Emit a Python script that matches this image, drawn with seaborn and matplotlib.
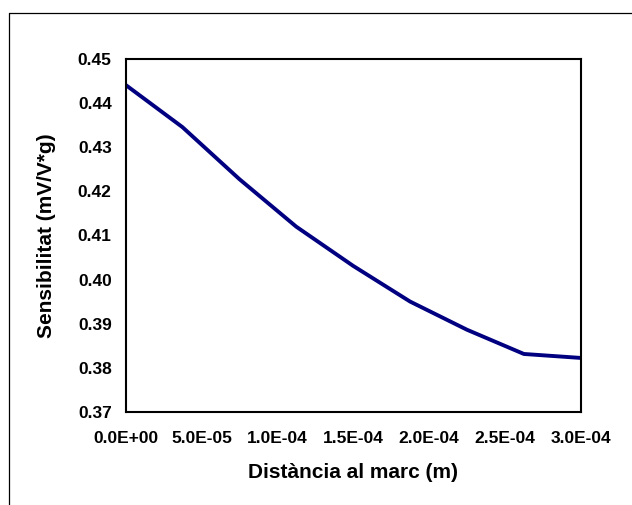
import pandas as pd
import matplotlib
matplotlib.use("Agg")
import matplotlib.pyplot as plt
from matplotlib.lines import Line2D
from matplotlib.ticker import FuncFormatter, MultipleLocator
import seaborn as sns

# --- values ---
distance_m = [0.0, 3.75e-5, 7.5e-5, 1.125e-4, 1.5e-4, 1.875e-4, 2.25e-4, 2.625e-4, 3.0e-4]
sensitivity = [0.4442, 0.4346, 0.4228, 0.4120, 0.4031, 0.3950, 0.3886, 0.3831, 0.3822]
df = pd.DataFrame({'distance': distance_m, 'sens': sensitivity})

sns.set_theme(style="white")
plt.rcParams['font.family'] = ['Liberation Sans', 'DejaVu Sans']
plt.rcParams['font.weight'] = 'bold'
plt.rcParams['text.color'] = 'black'
plt.rcParams['axes.labelcolor'] = 'black'

fig = plt.figure(figsize=(6.32, 5.05), dpi=100)
ax = fig.add_axes([0.1986, 0.1848, 0.7204, 0.6978])

sns.lineplot(data=df, x='distance', y='sens', ax=ax, color='#000080', linewidth=2.8)

ax.set_xlim(0, 3.0e-4)
ax.set_ylim(0.37, 0.45)
ax.xaxis.set_major_locator(MultipleLocator(5e-5))
ax.yaxis.set_major_locator(MultipleLocator(0.01))
ax.xaxis.set_major_formatter(FuncFormatter(lambda v, p: f'{v:.1E}'))
ax.yaxis.set_major_formatter(FuncFormatter(lambda v, p: f'{v:.2f}'))

ax.tick_params(axis='both', direction='out', length=4, width=1.2, color='black',
               labelsize=12.5, labelcolor='black')
ax.tick_params(axis='x', pad=10)
ax.tick_params(axis='y', pad=6)
for lbl in ax.get_xticklabels() + ax.get_yticklabels():
    lbl.set_fontweight('bold')

for side in ['left', 'right', 'top', 'bottom']:
    ax.spines[side].set_visible(True)
    ax.spines[side].set_color('black')
    ax.spines[side].set_linewidth(1.5)

ax.set_xlabel('Distància al marc (m)', fontsize=15, fontweight='bold', labelpad=12)
ax.set_ylabel('Sensibilitat (mV/V*g)', fontsize=15, fontweight='bold', labelpad=16)

# outer chart frame (top and left edges visible)
W, H = 632, 505
fig.add_artist(Line2D([8.5 / W, 1.0], [1 - 13 / H, 1 - 13 / H], transform=fig.transFigure,
                      color='black', linewidth=0.9))
fig.add_artist(Line2D([8.5 / W, 8.5 / W], [0.0, 1 - 13 / H], transform=fig.transFigure,
                      color='black', linewidth=0.9))

fig.savefig('out.png', dpi=100, facecolor='white')
